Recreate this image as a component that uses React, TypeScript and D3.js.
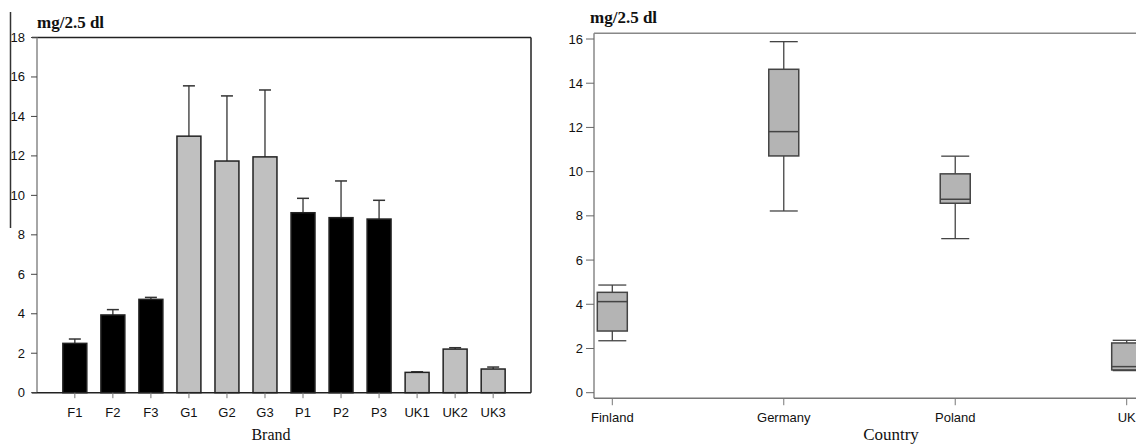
import React from "react";
import * as d3 from "d3";

const brands = ["F1", "F2", "F3", "G1", "G2", "G3", "P1", "P2", "P3", "UK1", "UK2", "UK3"];
const brandMeans = [2.5, 3.94, 4.73, 13.0, 11.74, 11.95, 9.12, 8.87, 8.8, 1.03, 2.21, 1.2];
const brandErrTop = [2.72, 4.21, 4.83, 15.55, 15.04, 15.34, 9.85, 10.73, 9.75, 1.06, 2.28, 1.3];
const brandDark = [true, true, true, false, false, false, true, true, true, false, false, false];
const leftTicks = [0, 2, 4, 6, 8, 10, 12, 14, 16, 18];

const countries = ["Finland", "Germany", "Poland", "UK"];
const boxMin = [2.35, 8.22, 6.97, 1.0];
const boxQ1 = [2.79, 10.71, 8.57, 1.03];
const boxMedian = [4.12, 11.81, 8.75, 1.18];
const boxQ3 = [4.54, 14.63, 9.9, 2.25];
const boxMax = [4.87, 15.88, 10.7, 2.37];
const rightTicks = [0, 2, 4, 6, 8, 10, 12, 14, 16];

export default function App() {
  // Left bar chart
  const xL = d3.scaleBand<string>().domain(brands).range([37, 531]).paddingInner(0.37).paddingOuter(0.68);
  const yL = d3.scaleLinear().domain([0, 18]).range([392.7, 37.5]);
  const bw = xL.bandwidth();

  // Right box plot
  const xR = d3.scalePoint<string>().domain(countries).range([612.3, 1126.7]);
  const yR = d3.scaleLinear().domain([0, 16]).range([392.7, 39]);
  const yR0 = yR(-0.25);
  const yRTop = yR(16.26);
  const boxW = 30;
  const capW = 28;

  const sans = "'Liberation Sans', Arial, sans-serif";
  const serif = "'Liberation Serif', 'Times New Roman', serif";
  const tickFs = 13;

  return (
    <svg width={1136} height={445} style={{ position: "absolute", left: 0, top: 0, background: "#fff" }}>
      <rect x={0} y={0} width={1136} height={445} fill="#fff" />
      {/* stray crop line */}
      <line x1={10.5} x2={10.5} y1={12} y2={228} stroke="#333" strokeWidth={1.5} />

      {/* LEFT CHART */}
      <text x={37} y={28} fontFamily={serif} fontWeight="bold" fontSize={17} fill="#111">mg/2.5 dl</text>
      <line x1={32} x2={531} y1={yL(18)} y2={yL(18)} stroke="#222" strokeWidth={1.5} />
      <line x1={531} x2={531} y1={yL(18)} y2={yL(0)} stroke="#222" strokeWidth={1.5} />
      <line x1={37} x2={37} y1={yL(18)} y2={yL(0)} stroke="#888" strokeWidth={1.5} />
      <line x1={32} x2={531} y1={yL(0)} y2={yL(0)} stroke="#222" strokeWidth={1.5} />
      {leftTicks.map((t) => (
        <g key={"lt" + t}>
          <line x1={31} x2={37} y1={yL(t)} y2={yL(t)} stroke="#444" strokeWidth={1} />
          <text x={25} y={yL(t) + 4.5} textAnchor="end" fontFamily={sans} fontSize={tickFs} fill="#111">{t}</text>
        </g>
      ))}
      {brands.map((b, i) => {
        const x0 = xL(b)!;
        const cx = x0 + bw / 2;
        return (
          <g key={b}>
            <line x1={cx} x2={cx} y1={yL(brandMeans[i])} y2={yL(brandErrTop[i])} stroke="#333" strokeWidth={1.3} />
            <line x1={cx - 6} x2={cx + 6} y1={yL(brandErrTop[i])} y2={yL(brandErrTop[i])} stroke="#333" strokeWidth={1.5} />
            <rect x={x0} y={yL(brandMeans[i])} width={bw} height={yL(0) - yL(brandMeans[i])}
              fill={brandDark[i] ? "#000" : "#c0c0c0"} stroke="#222" strokeWidth={1.5} />
            <line x1={cx} x2={cx} y1={yL(0)} y2={yL(0) + 5.5} stroke="#777" strokeWidth={1} />
            <text x={cx} y={417} textAnchor="middle" fontFamily={sans} fontSize={tickFs} fill="#111">{b}</text>
          </g>
        );
      })}
      <text x={271} y={440} textAnchor="middle" fontFamily={serif} fontSize={16} fill="#111">Brand</text>

      {/* RIGHT CHART */}
      <text x={590} y={23} fontFamily={serif} fontWeight="bold" fontSize={17} fill="#111">mg/2.5 dl</text>
      <line x1={594} x2={1136} y1={yRTop} y2={yRTop} stroke="#888" strokeWidth={1.5} />
      <line x1={594} x2={594} y1={yRTop} y2={yR0} stroke="#888" strokeWidth={1.5} />
      <line x1={594} x2={1136} y1={yR0} y2={yR0} stroke="#777" strokeWidth={1.5} />
      {rightTicks.map((t) => (
        <g key={"rt" + t}>
          <line x1={586} x2={594} y1={yR(t)} y2={yR(t)} stroke="#666" strokeWidth={1} />
          <text x={583} y={yR(t) + 4.5} textAnchor="end" fontFamily={sans} fontSize={tickFs} fill="#111">{t}</text>
        </g>
      ))}
      {countries.map((c, i) => {
        const cx = xR(c)!;
        return (
          <g key={c}>
            <line x1={cx} x2={cx} y1={yR(boxMax[i])} y2={yR(boxQ3[i])} stroke="#444" strokeWidth={1.3} />
            <line x1={cx} x2={cx} y1={yR(boxQ1[i])} y2={yR(boxMin[i])} stroke="#444" strokeWidth={1.3} />
            <line x1={cx - capW / 2} x2={cx + capW / 2} y1={yR(boxMax[i])} y2={yR(boxMax[i])} stroke="#444" strokeWidth={1.3} />
            <line x1={cx - capW / 2} x2={cx + capW / 2} y1={yR(boxMin[i])} y2={yR(boxMin[i])} stroke="#444" strokeWidth={1.3} />
            <rect x={cx - boxW / 2} y={yR(boxQ3[i])} width={boxW} height={yR(boxQ1[i]) - yR(boxQ3[i])}
              fill="#b4b4b4" stroke="#444" strokeWidth={1.5} />
            <line x1={cx - boxW / 2} x2={cx + boxW / 2} y1={yR(boxMedian[i])} y2={yR(boxMedian[i])} stroke="#444" strokeWidth={1.5} />
            <line x1={cx} x2={cx} y1={yR0} y2={yR0 + 7} stroke="#777" strokeWidth={1} />
            <text x={cx} y={421.5} textAnchor="middle" fontFamily={sans} fontSize={tickFs} fill="#111">{c}</text>
          </g>
        );
      })}
      <text x={891} y={440} textAnchor="middle" fontFamily={serif} fontSize={17} fill="#111">Country</text>
    </svg>
  );
}
